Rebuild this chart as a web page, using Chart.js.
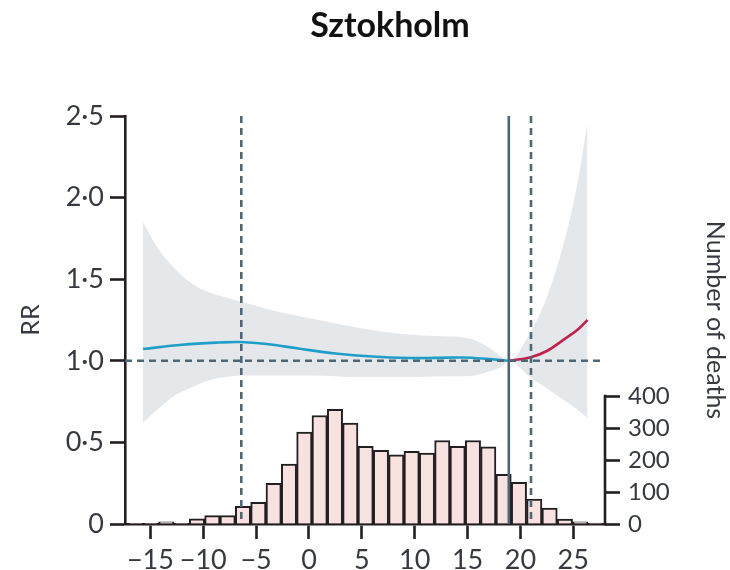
<!DOCTYPE html>
<html>
<head>
<meta charset="utf-8">
<script src="https://cdn.jsdelivr.net/npm/chart.js@4.4.0/dist/chart.umd.min.js"></script>
<style>
  html, body { margin: 0; padding: 0; background: #fff; }
  #wrap { width: 730px; height: 570px; }
</style>
</head>
<body>
<div id="wrap"><canvas id="rrChart"></canvas></div>
<script>
// temperature bins (centres, degrees C) and daily deaths per bin
const binCenters = [-16.39, -14.94, -13.49, -12.04, -10.59, -9.14, -7.69, -6.24, -4.79, -3.34,
                    -1.89, -0.44, 1.01, 2.46, 3.91, 5.36, 6.81, 8.26, 9.71, 11.16,
                    12.61, 14.06, 15.51, 16.96, 18.41, 19.86, 21.31, 22.76, 24.21, 25.66, 27.11];
const deaths = [2, 2, 7, 2, 16, 26, 26, 55, 68, 127,
                187, 287, 339, 358, 315, 243, 230, 216, 227, 222,
                261, 243, 261, 241, 155, 130, 78, 50, 15, 7, 3];

// confidence band of the relative risk
const bandX     = [-15.7, -14.2, -12.6, -11.0, -9.5, -7.9, -6.3, -4.6, -3.5, 0.1, 4.9, 9.6, 12.7, 15.0, 16.8, 18.1, 18.9, 20.9, 22.5, 24.1, 25.4, 26.35];
const bandUpper = [1.85, 1.68, 1.56, 1.47, 1.42, 1.39, 1.36, 1.33, 1.31, 1.26, 1.20, 1.16, 1.15, 1.14, 1.09, 1.03, 1.00, 1.17, 1.39, 1.72, 2.09, 2.46];
const bandLower = [0.62, 0.71, 0.79, 0.84, 0.88, 0.90, 0.91, 0.91, 0.91, 0.91, 0.90, 0.90, 0.905, 0.905, 0.93, 0.96, 1.00, 0.90, 0.83, 0.76, 0.70, 0.65];

// RR curve: cold side (blue) and heat side (red)
const coldX  = [-15.7, -12.0, -8.5, -6.5, -4.0, -1.0, 2.5, 6.0, 9.6, 12.0, 14.5, 16.8, 18.9];
const coldRR = [1.072, 1.098, 1.112, 1.115, 1.103, 1.075, 1.045, 1.026, 1.017, 1.018, 1.02, 1.012, 1.0];
const heatX  = [18.9, 20.9, 22.5, 24.1, 25.4, 26.35];
const heatRR = [1.0, 1.02, 1.06, 1.13, 1.19, 1.25];

// reference lines: percentiles (dashed) and minimum mortality temperature (solid)
const dashedTemps = [-6.4, 21.0];
const mmt = 18.9;

const xTicks = [-15, -10, -5, 0, 5, 10, 15, 20, 25];
const rrTicks = [0, 0.5, 1, 1.5, 2, 2.5];
const deathTicks = [0, 100, 200, 300, 400];

const axisColor = '#231f20';
const labelColor = '#363a40';
const refColor = '#4d6873';
const FONT = 'Lato';

const pts = (xs, ys) => xs.map((x, i) => ({ x: x, y: ys[i] }));

const refLines = {
  id: 'refLines',
  afterDatasetsDraw(chart) {
    const ctx = chart.ctx;
    const a = chart.chartArea;
    const xs = chart.scales.x, ys = chart.scales.y;
    ctx.save();
    ctx.strokeStyle = refColor;
    ctx.lineWidth = 2.6;
    ctx.setLineDash([7, 5]);
    // RR = 1
    let y1 = ys.getPixelForValue(1);
    ctx.beginPath(); ctx.moveTo(a.left, y1); ctx.lineTo(a.right - 2, y1); ctx.stroke();
    dashedTemps.forEach(t => {
      const px = xs.getPixelForValue(t);
      ctx.beginPath(); ctx.moveTo(px, a.top); ctx.lineTo(px, a.bottom); ctx.stroke();
    });
    ctx.setLineDash([]);
    const mx = xs.getPixelForValue(mmt);
    ctx.beginPath(); ctx.moveTo(mx, a.top); ctx.lineTo(mx, a.bottom); ctx.stroke();
    ctx.restore();
  },
  afterDraw(chart) {
    const ctx = chart.ctx;
    const y2 = chart.scales.y2;
    // right axis only spans the histogram range
    ctx.save();
    ctx.strokeStyle = axisColor;
    ctx.lineWidth = 2.6;
    ctx.beginPath();
    ctx.moveTo(y2.left, y2.getPixelForValue(0) + 1.3);
    ctx.lineTo(y2.left, y2.getPixelForValue(400) - 1.3);
    ctx.stroke();
    // title
    ctx.fillStyle = '#111';
    ctx.font = 'bold 34px ' + FONT;
    ctx.textAlign = 'center';
    ctx.textBaseline = 'middle';
    ctx.fillText('Sztokholm', 390, 26);
    ctx.restore();
  }
};

const ctx = document.getElementById('rrChart').getContext('2d');
new Chart(ctx, {
  data: {
    datasets: [
      {
        type: 'line', label: 'upper', data: pts(bandX, bandUpper), yAxisID: 'y',
        borderWidth: 0, pointRadius: 0, fill: '+1', backgroundColor: '#e5e8eb',
        cubicInterpolationMode: 'monotone', order: 3
      },
      {
        type: 'line', label: 'lower', data: pts(bandX, bandLower), yAxisID: 'y',
        borderWidth: 0, pointRadius: 0, fill: false,
        cubicInterpolationMode: 'monotone', order: 3
      },
      {
        type: 'line', label: 'cold', data: pts(coldX, coldRR), yAxisID: 'y',
        borderColor: '#1f9fc8', borderWidth: 2.6, pointRadius: 0, fill: false,
        tension: 0.4, order: 1
      },
      {
        type: 'line', label: 'heat', data: pts(heatX, heatRR), yAxisID: 'y',
        borderColor: '#c21f4d', borderWidth: 2.6, pointRadius: 0, fill: false,
        tension: 0.4, order: 1
      },
      {
        type: 'bar', label: 'deaths', data: pts(binCenters, deaths), yAxisID: 'y2',
        backgroundColor: '#f7e2e1', borderColor: '#231f20', borderWidth: 2,
        barPercentage: 1, categoryPercentage: 1, order: 4
      }
    ]
  },
  options: {
    responsive: true,
    maintainAspectRatio: false,
    animation: false,
    layout: { padding: { top: 116, left: 0, right: 0, bottom: 0 } },
    plugins: { legend: { display: false }, tooltip: { enabled: false } },
    scales: {
      x: {
        type: 'linear', min: -17.4, max: 28, offset: false,
        afterBuildTicks: s => { s.ticks = xTicks.map(v => ({ value: v })); },
        afterFit: s => { s.height = 46; },
        ticks: {
          color: labelColor, padding: 5,
          font: { family: FONT, size: 27 },
          callback: v => (v < 0 ? '\u2212' + Math.abs(v) : String(v))
        },
        grid: { offset: false, drawOnChartArea: false, drawTicks: true, tickLength: 15, tickWidth: 2.6, tickColor: axisColor },
        border: { color: axisColor, width: 2.6 }
      },
      y: {
        position: 'left', min: 0, max: 2.5,
        afterBuildTicks: s => { s.ticks = rrTicks.map(v => ({ value: v })); },
        afterFit: s => { s.width = 125; },
        ticks: {
          color: labelColor, padding: 6,
          font: { family: FONT, size: 27 },
          callback: v => (v === 0 ? '0' : v.toFixed(1).replace('.', '\u00b7'))
        },
        title: { display: true, text: 'RR', color: labelColor, font: { family: FONT, size: 25 }, padding: { top: 16, bottom: 0 } },
        grid: { drawOnChartArea: false, drawTicks: true, tickLength: 15, tickWidth: 2.6, tickColor: axisColor },
        border: { color: axisColor, width: 2.6 }
      },
      y2: {
        position: 'right', min: 0, max: 1275,
        afterBuildTicks: s => { s.ticks = deathTicks.map(v => ({ value: v })); },
        afterFit: s => { s.width = 125; },
        ticks: { color: labelColor, padding: 8, font: { family: FONT, size: 24 } },
        title: { display: true, text: 'Number of deaths', color: labelColor, font: { family: FONT, size: 25 }, padding: { top: 0, bottom: 0 } },
        grid: { drawOnChartArea: false, drawTicks: true, tickLength: 15, tickWidth: 2.6, tickColor: axisColor },
        border: { display: false }
      }
    }
  },
  plugins: [refLines]
});
</script>
</body>
</html>
